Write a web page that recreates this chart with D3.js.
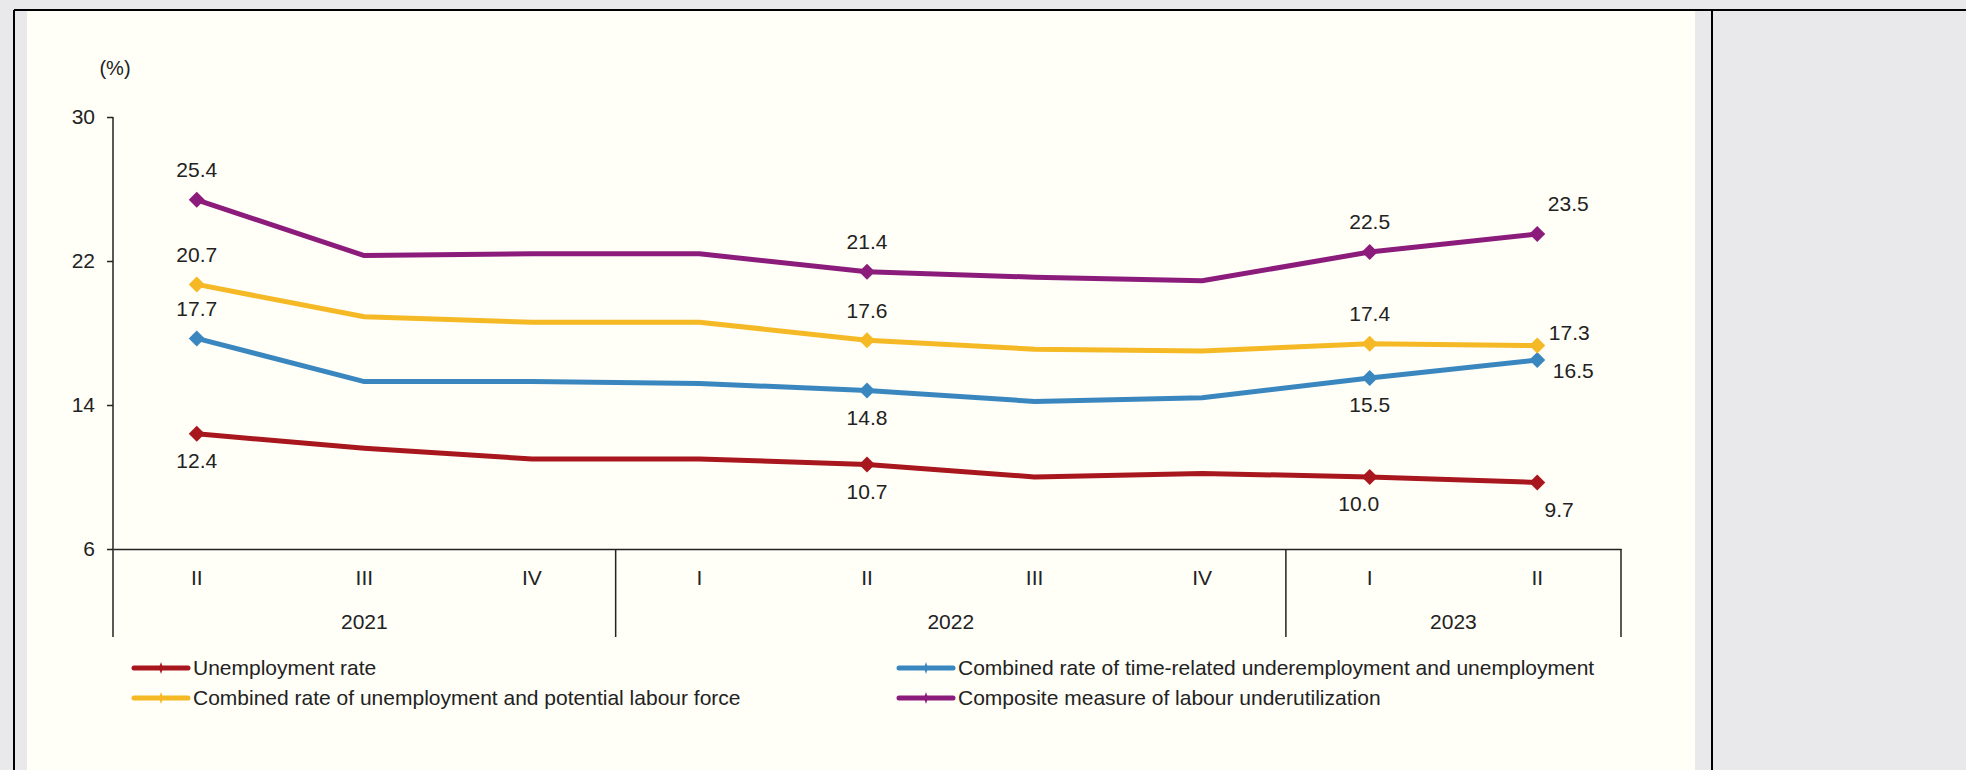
<!DOCTYPE html>
<html>
<head>
	<title>Labour underutilization</title>
	<script src="https://cdn.jsdelivr.net/npm/d3@7" type="text/javascript"></script>
	<style>
		html, body { margin: 0; padding: 0; background: #e9e8ea; }
		svg text { font-family: "Liberation Sans", Arial, sans-serif; fill: #222; }
	</style>
</head>
<body>
	<script type="text/javascript">
		// Data
		var quarters = ["II", "III", "IV", "I", "II", "III", "IV", "I", "II"];
		var years = ["2021", "2021", "2021", "2022", "2022", "2022", "2022", "2023", "2023"];
		var yTicks = [6, 14, 22, 30];

		var unemployment = [12.4, 11.6, 11.0, 11.0, 10.7, 10.0, 10.2, 10.0, 9.7];
		var timeRelated = [17.7, 15.3, 15.3, 15.2, 14.8, 14.2, 14.4, 15.5, 16.5];
		var potentialLabour = [20.7, 18.9, 18.6, 18.6, 17.6, 17.1, 17.0, 17.4, 17.3];
		var composite = [25.4, 22.3, 22.4, 22.4, 21.4, 21.1, 20.9, 22.5, 23.5];

		var seriesNames = ["Unemployment rate",
			"Combined rate of time-related underemployment and unemployment",
			"Combined rate of unemployment and potential labour force",
			"Composite measure of labour underutilization"];
		var seriesValues = [unemployment, timeRelated, potentialLabour, composite];
		var seriesColors = ["#a8171d", "#3a87c0", "#f5b925", "#8c1c7b"];

		// where the value labels sit: index -> side
		var labelSides = [
			{0: "below", 4: "below", 7: "belowLeft", 8: "belowRight"},
			{0: "above", 4: "below", 7: "below", 8: "rightDown"},
			{0: "above", 4: "above", 7: "above", 8: "rightUp"},
			{0: "above", 4: "above", 7: "above", 8: "aboveRight"}
		];
		var offsets = {
			above: [0, -30], below: [0, 27], belowLeft: [-11, 27], belowRight: [22, 27],
			rightDown: [36, 11], rightUp: [32, -13], aboveRight: [31, -30]
		};

		var svgW = 1966, svgH = 770;
		var fontSize = "21px";
		var svg = d3.select("body").append("svg")
			.attr("width", svgW)
			.attr("height", svgH);

		// panel + table frame
		svg.append("rect").attr("x", 27).attr("y", 11).attr("width", 1668).attr("height", svgH - 11)
			.attr("fill", "#fffef7");
		svg.append("line").attr("x1", 14).attr("x2", svgW).attr("y1", 10).attr("y2", 10)
			.attr("stroke", "#000").attr("stroke-width", 2);
		svg.append("line").attr("x1", 14).attr("x2", 14).attr("y1", 10).attr("y2", svgH)
			.attr("stroke", "#000").attr("stroke-width", 2);
		svg.append("line").attr("x1", 1712).attr("x2", 1712).attr("y1", 10).attr("y2", svgH)
			.attr("stroke", "#000").attr("stroke-width", 2);

		var plotL = 113, plotR = 1621, plotT = 117, plotB = 549, boxB = 637;
		var x = d3.scaleBand().domain(d3.range(quarters.length)).range([plotL, plotR]);
		var y = d3.scaleLinear().domain([6, 30]).range([plotB, plotT]);
		var cx = function(i) { return x(i) + x.bandwidth() / 2; };

		// y axis
		var yAxis = svg.append("g")
			.attr("transform", "translate(" + plotL + ",0)")
			.call(d3.axisLeft(y).tickValues(yTicks).tickSize(6).tickPadding(12));
		yAxis.select(".domain").remove();
		yAxis.selectAll("line").attr("stroke", "#222").attr("stroke-width", 1.5);
		yAxis.selectAll("text").attr("font-size", fontSize).style("fill", "#222")
			.attr("font-family", "Liberation Sans, Arial, sans-serif");
		svg.append("line").attr("x1", plotL).attr("x2", plotL).attr("y1", plotT).attr("y2", boxB)
			.attr("stroke", "#222").attr("stroke-width", 1.5);

		svg.append("text").attr("x", 115).attr("y", 75).attr("text-anchor", "middle")
			.attr("font-size", "20px").text("(%)");

		// x axis with quarter / year rows
		var xAxis = svg.append("g")
			.attr("transform", "translate(0," + plotB + ")")
			.call(d3.axisBottom(x).tickSize(0).tickPadding(21).tickFormat(function(i) { return quarters[i]; }));
		xAxis.select(".domain").attr("stroke", "#222").attr("stroke-width", 1.5);
		xAxis.selectAll("text").attr("font-size", fontSize).style("fill", "#222")
			.attr("font-family", "Liberation Sans, Arial, sans-serif");

		var groups = [];
		years.forEach(function(yr, i) {
			var g = groups[groups.length - 1];
			if (!g || g.year !== yr) groups.push({year: yr, start: i, end: i});
			else g.end = i;
		});
		groups.forEach(function(g) {
			var x1 = x(g.end) + x.bandwidth();
			svg.append("line").attr("x1", x1).attr("x2", x1).attr("y1", plotB).attr("y2", boxB)
				.attr("stroke", "#222").attr("stroke-width", 1.5);
			svg.append("text").attr("x", (x(g.start) + x1) / 2).attr("y", 622).attr("dy", "0.35em")
				.attr("text-anchor", "middle").attr("font-size", fontSize).text(g.year);
		});

		// series
		var line = d3.line()
			.x(function(d, i) { return cx(i); })
			.y(function(d) { return y(d); });
		// square diamond, like the spreadsheet marker
		var diamond = "M0,-8L8,0L0,8L-8,0Z";
		var legendTick = "M0,-6L2,0L0,6L-2,0Z";

		seriesValues.forEach(function(vals, s) {
			svg.append("path").datum(vals)
				.attr("d", line)
				.attr("fill", "none")
				.attr("stroke", seriesColors[s])
				.attr("stroke-width", 5)
				.attr("stroke-linejoin", "round");
			var labelled = Object.keys(labelSides[s]).map(Number);
			svg.selectAll(null).data(labelled).enter().append("path")
				.attr("d", diamond)
				.attr("transform", function(i) { return "translate(" + cx(i) + "," + y(vals[i]) + ")"; })
				.attr("fill", seriesColors[s]);
			svg.selectAll(null).data(labelled).enter().append("text")
				.attr("x", function(i) { return cx(i) + offsets[labelSides[s][i]][0]; })
				.attr("y", function(i) { return y(vals[i]) + offsets[labelSides[s][i]][1]; })
				.attr("dy", "0.35em")
				.attr("text-anchor", "middle")
				.attr("font-size", fontSize)
				.text(function(i) { return vals[i].toFixed(1); });
		});

		// legend
		var legendPos = [[134, 668], [899, 668], [134, 698], [899, 698]];
		seriesNames.forEach(function(name, s) {
			var lx = legendPos[s][0], ly = legendPos[s][1];
			svg.append("line").attr("x1", lx).attr("x2", lx + 54).attr("y1", ly).attr("y2", ly)
				.attr("stroke", seriesColors[s]).attr("stroke-width", 5)
				.attr("stroke-linecap", "round");
			svg.append("path").attr("d", legendTick)
				.attr("transform", "translate(" + (lx + 27) + "," + ly + ")")
				.attr("fill", seriesColors[s]);
			svg.append("text").attr("x", lx + 59).attr("y", ly).attr("dy", "0.35em")
				.attr("font-size", fontSize).text(name);
		});
	</script>
</body>
</html>
